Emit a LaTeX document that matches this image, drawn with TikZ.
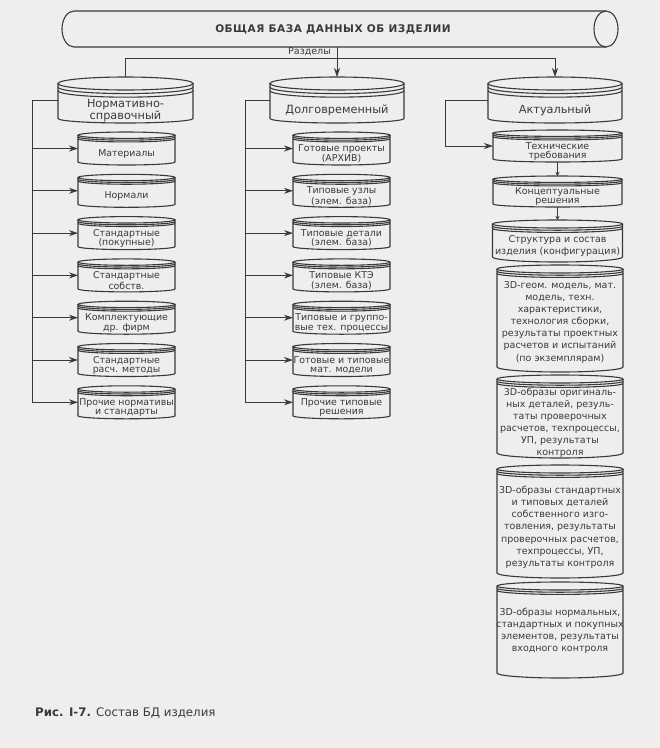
\documentclass[tikz,border=0pt]{standalone}
\usepackage{fontspec}
\setmainfont{DejaVu Sans}
\usetikzlibrary{arrows.meta,calc}

\definecolor{ink}{RGB}{58,58,58}
\definecolor{paper}{RGB}{238,238,236}

\tikzstyle{disk box}   = [inner sep=0pt,outer sep=0pt]
\tikzstyle{disk line}  = [draw=ink,line width=1.1pt]
\tikzstyle{head text}  = [text=ink,align=center,inner sep=0pt,yshift=-3pt,font=\fontsize{11.3}{10.8}\selectfont]
\tikzstyle{item text}  = [text=ink,align=center,inner sep=0pt,yshift=-1.8pt,font=\fontsize{9.4}{9.2}\selectfont]
\tikzstyle{tall text}  = [text=ink,align=center,inner sep=0pt,font=\fontsize{9.5}{12.1}\selectfont]
\tikzstyle{title text} = [text=ink,inner sep=0pt,font=\fontsize{10.5}{12}\bfseries\addfontfeature{LetterSpace=5}]
\tikzstyle{note text}  = [text=ink,inner sep=0pt,font=\fontsize{9.5}{11}\selectfont]
\tikzstyle{caption text} = [text=ink,inner sep=0pt,font=\fontsize{11.8}{13}\selectfont]
\tikzstyle{link}       = [draw=ink,line width=0.9pt,-{Stealth[length=9pt,width=6pt]}]
\tikzstyle{chain link} = [draw=ink,line width=0.9pt,-{Stealth[length=4pt,width=4pt]}]

% a database disk: label style, name, centre x, top y, width, height, lid ry, bottom ry, text
\newcommand\dbdisk[9]{%
  \pgfmathsetmacro\dskrx{#5/2}
  \pgfmathsetmacro\dskrim{0.55*#7}
  \pgfmathsetmacro\dsky{-(2*(#4)+2*#7+2*\dskrim+#6-#8)/2}
  \node[disk box,minimum width=#5pt,minimum height=#6pt,anchor=north] (#2) at (#3,{-(#4)}) {};
  \draw[disk line] (#2.north) ++(0,-#7) ellipse [x radius=\dskrx,y radius=#7];
  \draw[disk line] (#2.north west) ++(0,-#7-\dskrim) arc [start angle=180,end angle=360,x radius=\dskrx,y radius=#7];
  \draw[disk line] (#2.north west) ++(0,-#7-2*\dskrim) arc [start angle=180,end angle=360,x radius=\dskrx,y radius=#7];
  \draw[disk line] ($(#2.north west)+(0,-#7)$) -- ($(#2.south west)+(0,#8)$)
    arc [start angle=180,end angle=360,x radius=\dskrx,y radius=#8] -- ($(#2.north east)+(0,-#7)$);
  \node[#1] (#2-t) at (#3,\dsky) {#9};
}

\begin{document}
\begin{tikzpicture}[x=1pt,y=1pt]
\useasboundingbox (0,0) rectangle (660,-748);
\fill[paper] (0,0) rectangle (660,-748);
% Draw the common database pipe
\node[disk box,minimum width=556pt,minimum height=36pt] (pipe) at (340,-29) {};
\draw[disk line] ($(pipe.north east)+(-12,0)$) -- ($(pipe.north west)+(12,0)$)
  arc [start angle=90,end angle=270,x radius=12,y radius=18] -- ($(pipe.south east)+(-12,0)$);
\draw[disk line] ($(pipe.east)+(-12,0)$) ellipse [x radius=12,y radius=18];
\node[title text] (pipe-t) at ($(pipe.center)+(-7,0)$) {ОБЩАЯ БАЗА ДАННЫХ ОБ ИЗДЕЛИИ};
\node[note text,anchor=east] (sect) at (331,-52) {Разделы};
% Draw the three sections
\dbdisk{head text}{norm}{125.5}{77}{135}{46}{6.5}{4.5}{Нормативно-\\справочный}
\dbdisk{head text}{dolg}{337}{77}{134}{46}{6.5}{4.5}{Долговременный}
\dbdisk{head text}{act}{555}{77}{134}{46}{6.5}{4.5}{Актуальный}
\draw[link] (pipe.south -| dolg.north) -- (dolg.north);
\draw[link] (norm.north) -- ++(0,19) -| (act.north);
% Draw the reference section
\foreach \i/\t in {1/Материалы, 2/Нормали, 3/{Стандартные\\(покупные)}, 4/{Стандартные\\собств.},
  5/{Комплектующие\\др. фирм}, 6/{Стандартные\\расч. методы}, 7/{Прочие нормативы\\и стандарты}}
{
  \pgfmathsetmacro\rowtop{132+42.3*(\i-1)}
  \dbdisk{item text}{n\i}{126.5}{\rowtop}{97}{33}{3.2}{3}{\t}
  \draw[link] (norm.west) -- ++(-26,0) |- (n\i.west);
}
% Draw the long-term section
\foreach \i/\t in {1/{Готовые проекты\\(АРХИВ)}, 2/{Типовые узлы\\(элем. база)}, 3/{Типовые детали\\(элем. база)},
  4/{Типовые КТЭ\\(элем. база)}, 5/{Типовые и группо-\\вые тех. процессы}, 6/{Готовые и типовые\\мат. модели},
  7/{Прочие типовые\\решения}}
{
  \pgfmathsetmacro\rowtop{132+42.3*(\i-1)}
  \dbdisk{item text}{d\i}{341.5}{\rowtop}{97}{33}{3.2}{3}{\t}
  \draw[link] (dolg.west) -- ++(-25,0) |- (d\i.west);
}
% Draw the current section
\dbdisk{item text}{tech}{557.5}{130}{129}{32}{3.2}{3}{Технические\\требования}
\dbdisk{item text}{konc}{557.5}{176}{129}{31}{3.2}{3}{Концептуальные\\решения}
\dbdisk{tall text,yshift=-1.5pt}{struct}{557.5}{220}{130}{42}{4}{5}{Структура и состав\\изделия (конфигурация)}
\dbdisk{tall text}{geom}{560}{265}{126}{107}{4}{5}{3D-геом. модель, мат.\\модель, техн.\\характеристики,\\технология сборки,\\результаты проектных\\расчетов и испытаний\\(по экземплярам)}
\dbdisk{tall text,yshift=-2.5pt}{orig}{560}{375}{126}{83}{4}{5}{3D-образы оригиналь-\\ных деталей, резуль-\\таты проверочных\\расчетов, техпроцессы,\\УП, результаты\\контроля}
\dbdisk{tall text,yshift=-2pt}{std}{560}{465}{126}{113}{4}{5}{3D-образы стандартных\\и типовых деталей\\собственного изго-\\товления, результаты\\проверочных расчетов,\\техпроцессы, УП,\\результаты контроля}
\dbdisk{tall text,yshift=3pt}{normel}{560}{582}{126}{96}{4}{5}{3D-образы нормальных,\\стандартных и покупных\\элементов, результаты\\входного контроля}
\draw[link] (act.west) -- ++(-43,0) |- (tech.west);
\draw[chain link] (tech.south) -- (konc.north);
\draw[chain link] (konc.south) -- (struct.north);
% Caption
\node[caption text,anchor=west] (caption) at (35,-713) {\textbf{Рис. I-7.} Состав БД изделия};
\end{tikzpicture}
\end{document}
